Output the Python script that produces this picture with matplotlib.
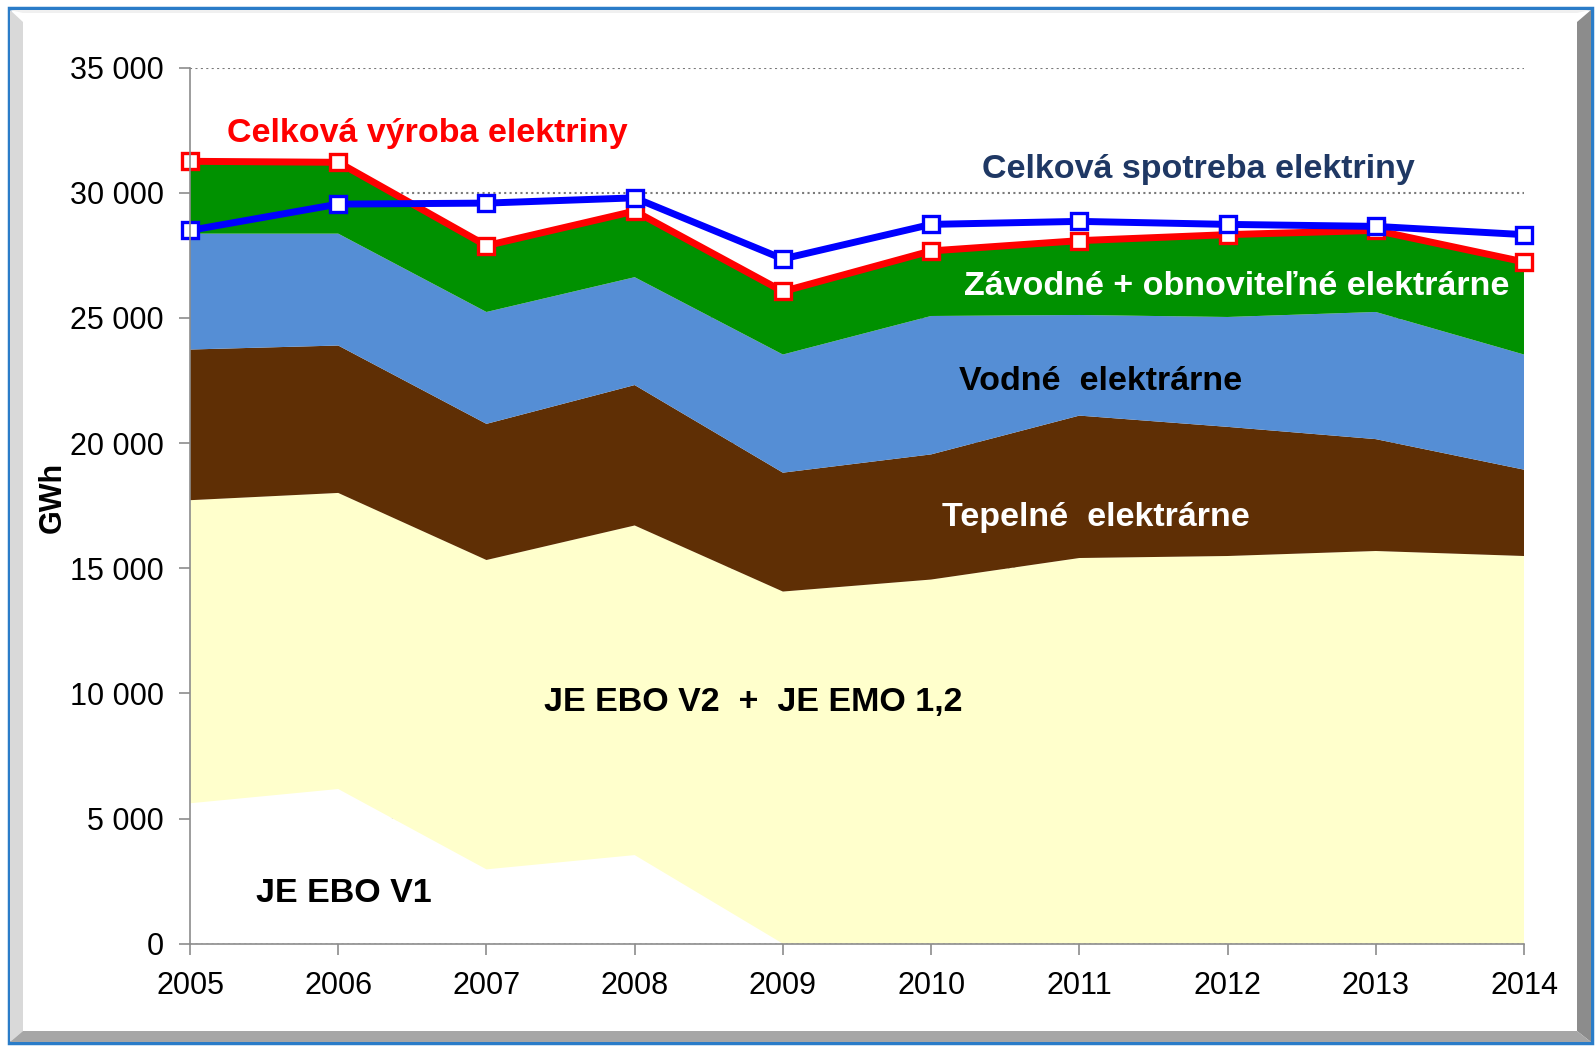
import numpy as np
import matplotlib
matplotlib.use("Agg")
import matplotlib.pyplot as plt
from matplotlib.patches import Polygon, Rectangle
from matplotlib.ticker import FuncFormatter

plt.rcParams['font.family'] = ['Liberation Sans', 'DejaVu Sans']

years = [2005, 2006, 2007, 2008, 2009, 2010, 2011, 2012, 2013, 2014]

# production by source, GWh
ebo_v1 = [5610, 6180, 2970, 3540, 0, 0, 0, 0, 0, 0]
ebo_v2_emo = [12110, 11830, 12360, 13170, 14070, 14550, 15410, 15490, 15690, 15490]
tepelne = [6020, 5890, 5440, 5610, 4750, 5000, 5690, 5160, 4470, 3450]
vodne = [4630, 4470, 4470, 4310, 4720, 5530, 4020, 4390, 5080, 4600]
zavodne = [2890, 2850, 2650, 2640, 2520, 2600, 2970, 3290, 3260, 3700]

vyroba = [31260, 31220, 27890, 29270, 26060, 27680, 28090, 28330, 28500, 27240]
spotreba = [28500, 29550, 29590, 29800, 27360, 28740, 28860, 28740, 28660, 28330]

layer_colors = ['#ffffff', '#ffffcc', '#5f2f05', '#558ed5', '#009100']

W, H = 1595, 1046
fig = plt.figure(figsize=(W / 100, H / 100), dpi=100)


def px(x, y):
    return (x / W, 1 - y / H)


# frame with bevel
fig.patches.append(Rectangle(px(9, 1043), 1583 / W, 1035 / H, transform=fig.transFigure,
                             fill=False, edgecolor='#2a7cc8', linewidth=2.5, zorder=0))
fig.patches.append(Polygon([px(10, 10), px(23, 22), px(23, 1031), px(10, 1042)], closed=True,
                           transform=fig.transFigure, facecolor='#d9d9d9', edgecolor='none'))
fig.patches.append(Polygon([px(10, 10), px(1591, 10), px(1577, 13), px(23, 13)], closed=True,
                           transform=fig.transFigure, facecolor='#f0f0f0', edgecolor='none'))
fig.patches.append(Polygon([px(1591, 10), px(1591, 1042), px(1577, 1031), px(1577, 22)], closed=True,
                           transform=fig.transFigure, facecolor='#8c8c8c', edgecolor='none'))
fig.patches.append(Polygon([px(10, 1042), px(1591, 1042), px(1577, 1031), px(23, 1031)], closed=True,
                           transform=fig.transFigure, facecolor='#a6a6a6', edgecolor='none'))

ax = fig.add_axes([190 / W, 1 - 943.7 / H, (1524 - 190) / W, (943.7 - 67.7) / H])
ax.set_facecolor('none')

ax.stackplot(years, ebo_v1, ebo_v2_emo, tepelne, vodne, zavodne,
             colors=layer_colors, linewidth=0, zorder=2)

ax.plot(years, vyroba, color='#ff0000', lw=5, marker='s', ms=12,
        mfc='white', mec='#ff0000', mew=2.4, zorder=4, clip_on=False)
ax.plot(years, spotreba, color='#0000ff', lw=5, marker='s', ms=12,
        mfc='white', mec='#0000ff', mew=2.4, zorder=5, clip_on=False)

ax.set_xlim(2005, 2014)
ax.set_ylim(0, 35000)
ax.set_xticks(years)
ax.set_yticks(np.arange(0, 35001, 5000))
ax.yaxis.set_major_formatter(FuncFormatter(lambda v, p: f"{int(v):,}".replace(',', ' ')))
ax.grid(axis='y', color='#7a7a7a', linestyle=(0, (1, 1.6)), linewidth=1.5, zorder=1)
ax.set_axisbelow(True)

for s in ['top', 'right']:
    ax.spines[s].set_visible(False)
for s in ['left', 'bottom']:
    ax.spines[s].set_color('#8c8c8c')
    ax.spines[s].set_linewidth(1.2)
    ax.spines[s].set_zorder(6)
ax.tick_params(axis='both', colors='#8c8c8c', labelcolor='black', labelsize=22,
               length=8, width=1.2, direction='out')
ax.tick_params(axis='y', pad=11)
ax.tick_params(axis='x', pad=12)

fig.text(53 / W, 1 - 497 / H, 'GWh', rotation=90, ha='center', va='center',
         fontsize=22, fontweight='bold')

dy = 130  # small shift so the label centres match the reference
ax.text(2005.25, 32520 - dy, 'Celková výroba elektriny', color='#ff0000', fontsize=24.5,
        fontweight='bold', ha='left', va='center', zorder=7)
ax.text(2010.34, 31080 - dy, 'Celková spotreba elektriny', color='#1f3864', fontsize=24.5,
        fontweight='bold', ha='left', va='center', zorder=7)
ax.text(2012.06, 26370 - dy, 'Závodné + obnoviteľné elektrárne', color='white', fontsize=24.5,
        fontweight='bold', ha='center', va='center', zorder=7)
ax.text(2011.14, 22610 - dy, 'Vodné  elektrárne', color='black', fontsize=24.5,
        fontweight='bold', ha='center', va='center', zorder=7)
ax.text(2011.11, 17160 - dy, 'Tepelné  elektrárne', color='white', fontsize=24.5,
        fontweight='bold', ha='center', va='center', zorder=7)
ax.text(2008.80, 9780 - dy, 'JE EBO V2  +  JE EMO 1,2', color='black', fontsize=24.5,
        fontweight='bold', ha='center', va='center', zorder=7)
ax.text(2006.04, 2150 - dy, 'JE EBO V1', color='black', fontsize=24.5,
        fontweight='bold', ha='center', va='center', zorder=7)

fig.savefig('out.png', dpi=100)
